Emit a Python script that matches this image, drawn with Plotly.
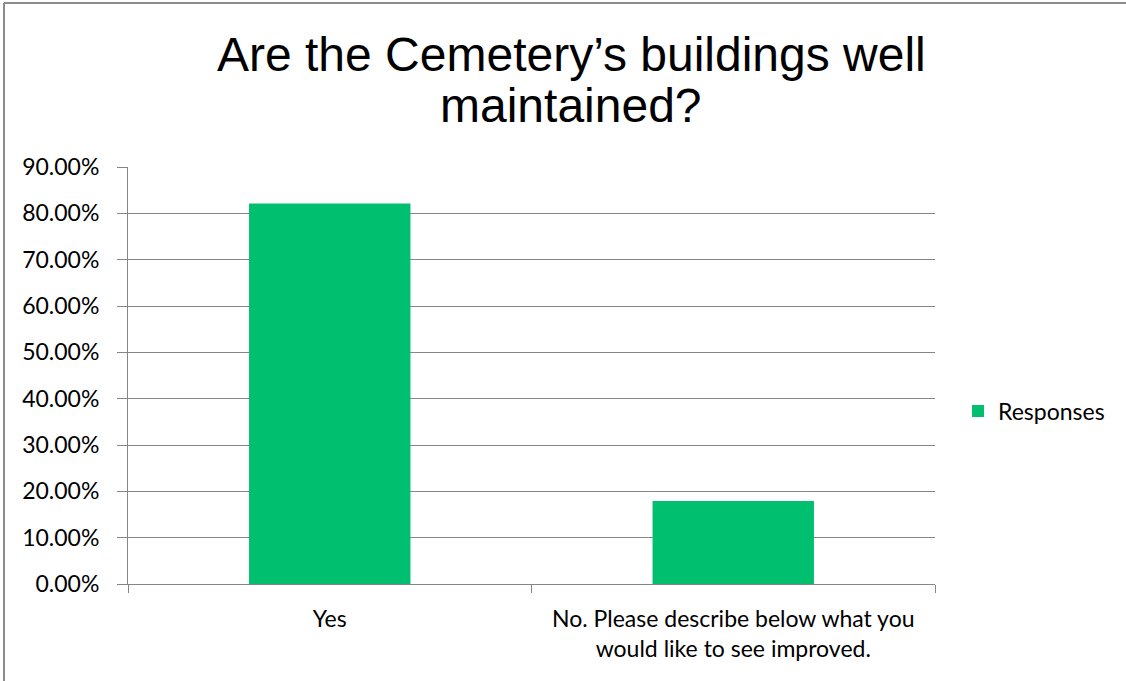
import plotly.graph_objects as go

categories = ["Yes", "No. Please describe below what you<br>would like to see improved."]
responses = [0.821, 0.179]
series_name = "Responses"
title_lines = ["Are the Cemetery’s buildings well", "maintained?"]

W, H = 1126, 681
L, R, T, B = 128, 191, 167, 97
pw, ph = W - L - R, H - T - B

def px_x(x):
    return (x - L) / pw

def px_y(y):
    return (H - B - y) / ph

GRID = "#868686"
GREEN = "#00BF6F"
TICKFONT = dict(family="Lato, 'Open Sans', sans-serif", size=23, color="#000000")

fig = go.Figure()
fig.add_trace(go.Bar(
    x=categories, y=responses, name=series_name,
    marker=dict(color=GREEN, line=dict(width=0)),
    width=0.4, showlegend=True,
))

fig.update_layout(
    width=W, height=H,
    margin=dict(l=L, r=R, t=T, b=B, autoexpand=False),
    paper_bgcolor="white", plot_bgcolor="white",
    showlegend=True,
    legend=dict(x=px_x(958), y=px_y(411), xanchor="left", yanchor="middle",
                font=TICKFONT, bgcolor="rgba(0,0,0,0)"),
    bargap=0.6,
)

fig.update_xaxes(
    type="category", range=[-0.5, 1.5],
    tickson="boundaries", ticks="outside", ticklen=8, tickcolor=GRID, tickwidth=1,
    showline=True, linecolor=GRID, linewidth=1, showgrid=False,
    tickfont=TICKFONT, ticklabelstandoff=14,
)
fig.update_yaxes(
    range=[0, 0.9], dtick=0.1, tick0=0, tickformat=".2%",
    ticks="outside", ticklen=10, tickcolor=GRID, tickwidth=1,
    showline=True, linecolor=GRID, linewidth=1,
    showgrid=True, gridcolor=GRID, gridwidth=1, zeroline=False,
    tickfont=TICKFONT, ticklabelstandoff=13,
)

title_font = dict(family="'Liberation Sans', Arial, sans-serif", size=48, color="#000000")
fig.add_annotation(text=title_lines[0], x=px_x(571), y=px_y(55), xref="paper", yref="paper",
                   xanchor="center", yanchor="middle", showarrow=False, font=title_font)
fig.add_annotation(text=title_lines[1], x=px_x(571), y=px_y(105), xref="paper", yref="paper",
                   xanchor="center", yanchor="middle", showarrow=False, font=title_font)

# chart-area border
fig.add_shape(type="line", xref="paper", yref="paper",
              x0=px_x(4), x1=px_x(4), y0=px_y(3), y1=px_y(H),
              line=dict(color="#8c8c8c", width=2))
fig.add_shape(type="line", xref="paper", yref="paper",
              x0=px_x(4), x1=px_x(W), y0=px_y(3), y1=px_y(3),
              line=dict(color="#8c8c8c", width=2))

fig.write_html("out.html", config={"displayModeBar": False},
               post_script="document.body.style.margin='0';document.body.style.overflow='hidden';")
